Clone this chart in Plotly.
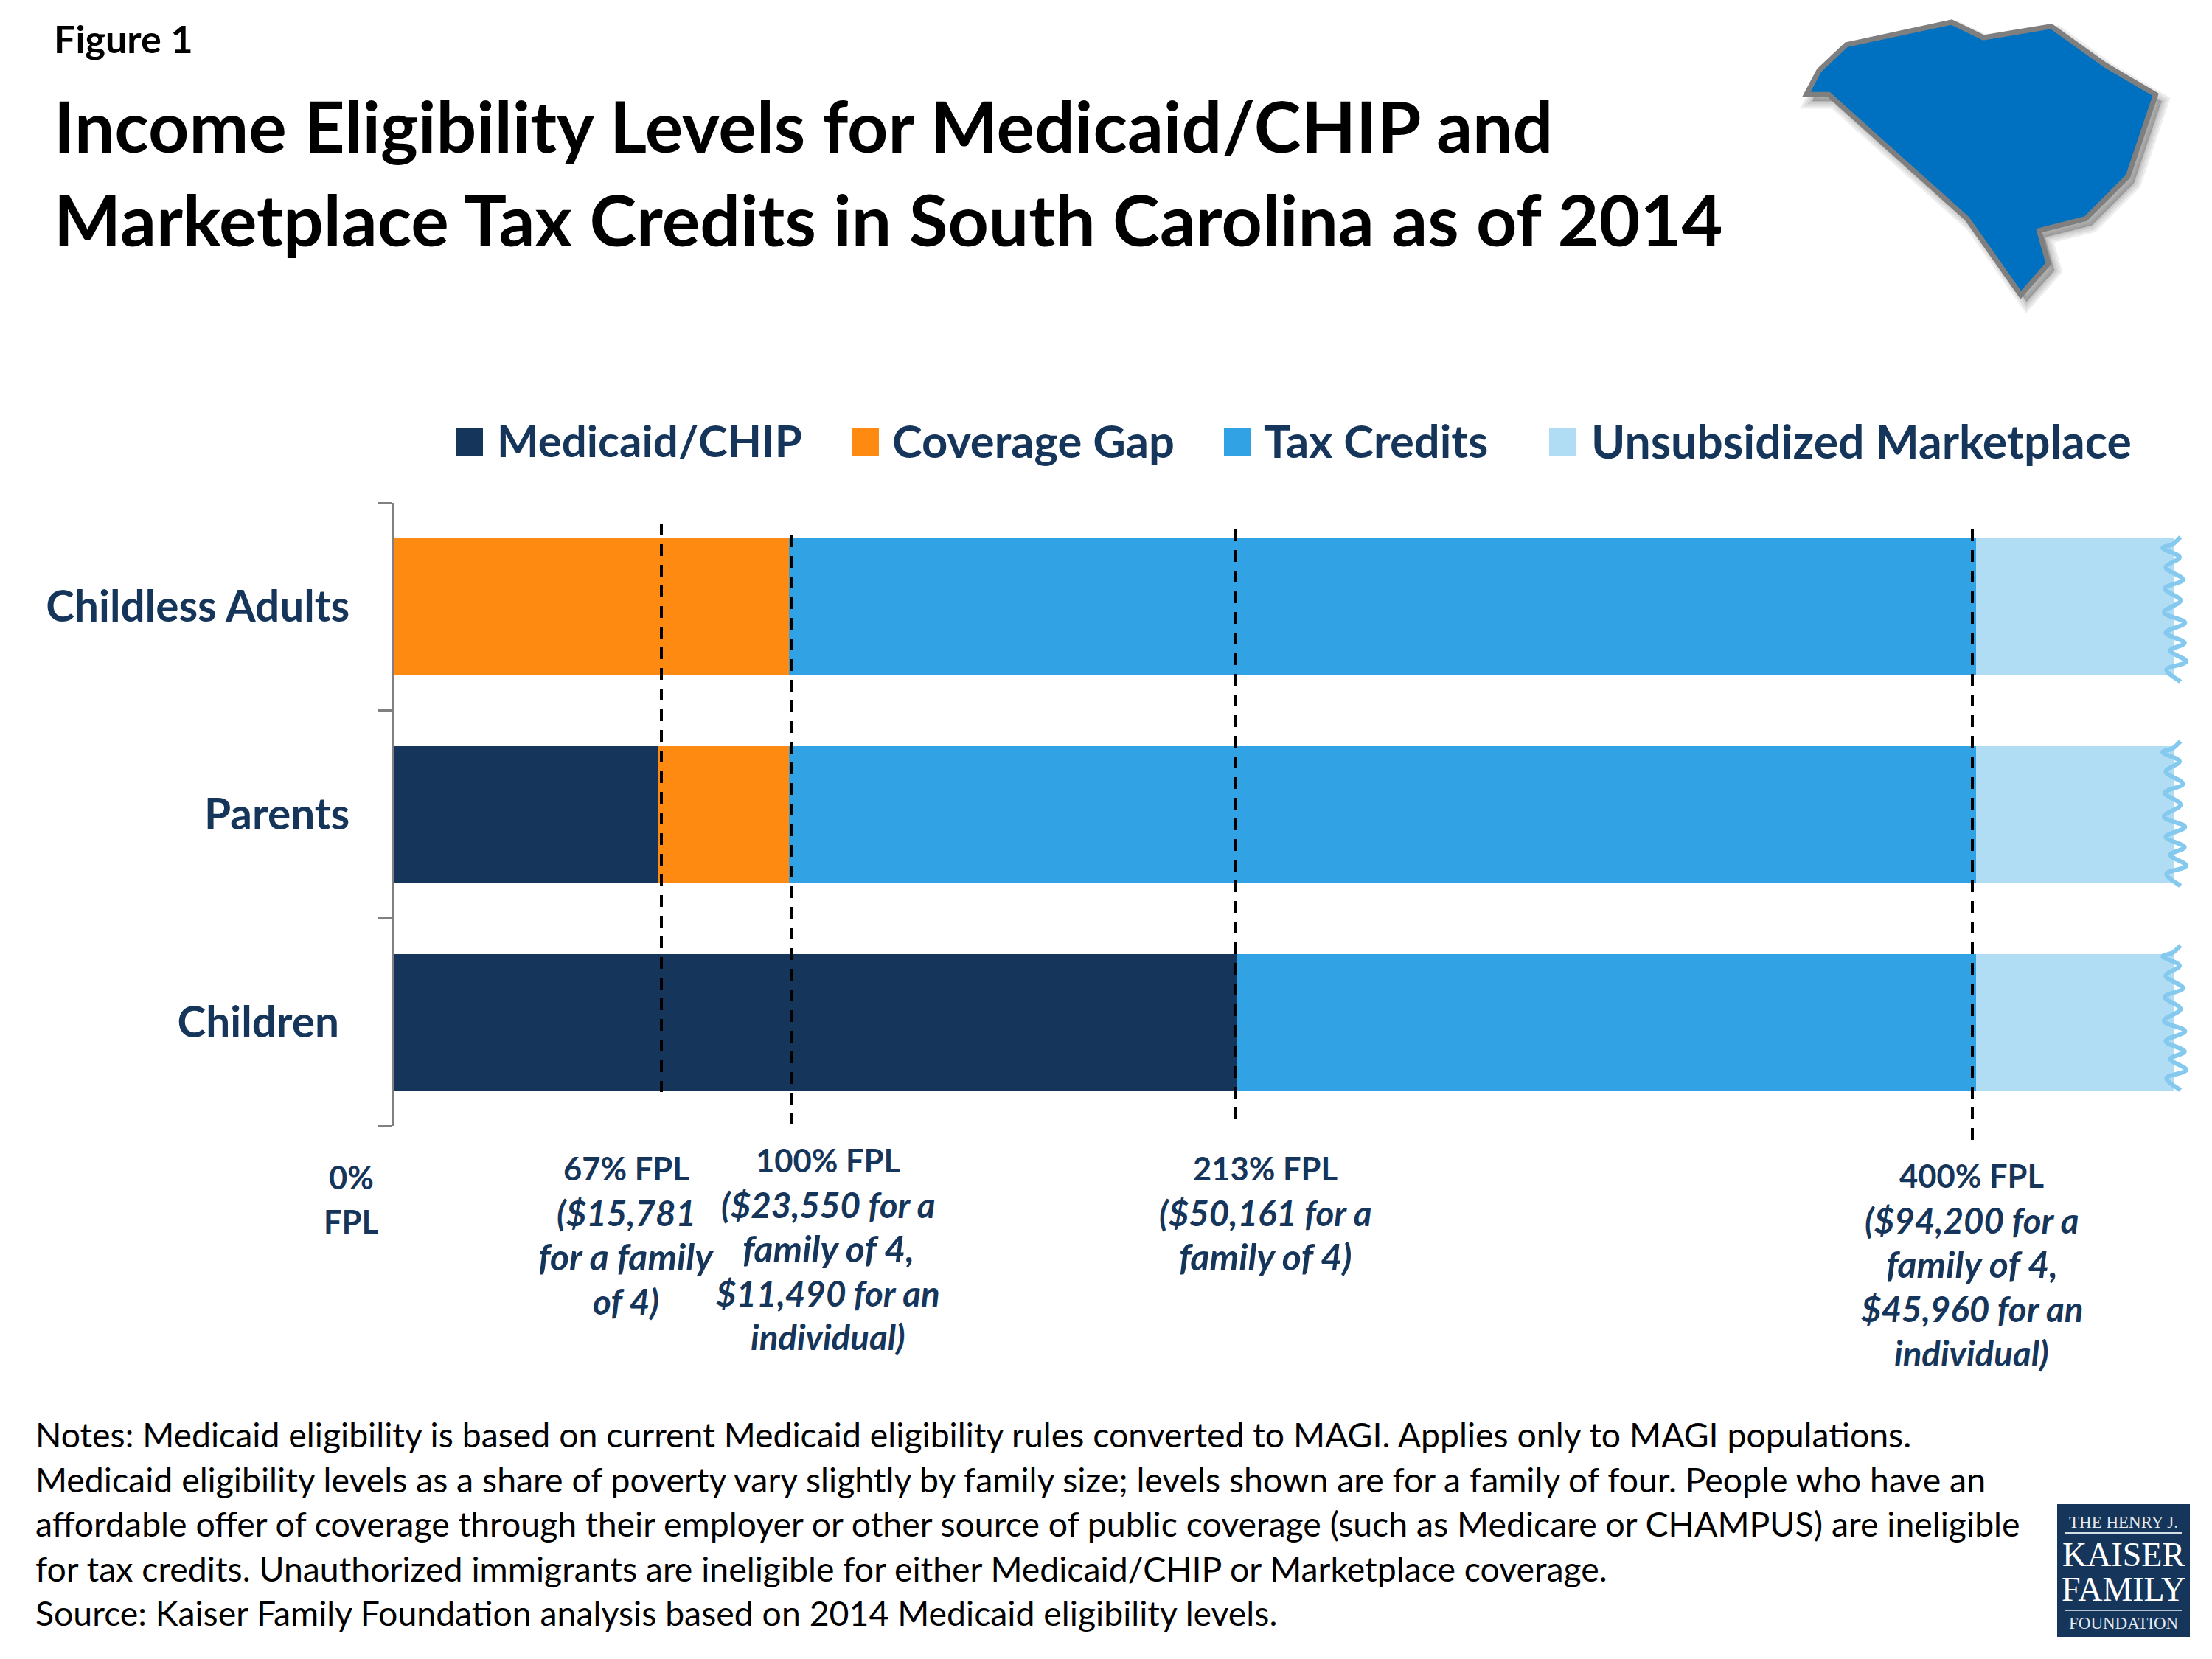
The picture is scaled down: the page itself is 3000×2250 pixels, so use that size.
import plotly.graph_objects as go

W, H = 3000, 2250
PAGE_MARGIN = 8  # the browser's body margin pushes the whole figure by this much

# chart values, % of poverty level
groups = ['Childless Adults', 'Parents', 'Children']
group_labels = ['Childless Adults', 'Parents', 'Children\u00a0']
medicaid = [0, 67, 213]
coverage_gap = [100, 33, 0]
tax_credits = [300, 300, 187]
unsubsidized = [50, 50, 50]

series_names = ['Medicaid/CHIP', 'Coverage Gap', 'Tax Credits', 'Unsubsidized Marketplace']
series_values = [medicaid, coverage_gap, tax_credits, unsubsidized]
series_colors = ['#15355a', '#ff8a12', '#31a2e3', '#b1ddf4']

NAVY = '#15355a'
FONT = 'Lato'

fpl_labels = {
    476: ['0%', 'FPL'],
    849: ['67% FPL', '($15,781', 'for a family', 'of 4)'],
    1123: ['100% FPL', '($23,550 for a', 'family of 4,', '$11,490 for an', 'individual)'],
    1716: ['213% FPL', '($50,161 for a', 'family of 4)'],
    2674: ['400% FPL', '($94,200 for a', 'family of 4,', '$45,960 for an', 'individual)'],
}
fpl_first_y = {476: 1596, 849: 1584, 1123: 1573, 1716: 1584, 2674: 1594}

notes = [
    'Notes: Medicaid eligibility is based on current Medicaid eligibility rules converted to MAGI. Applies only to MAGI populations.',
    'Medicaid eligibility levels as a share of poverty vary slightly by family size; levels shown are for a family of four. People who have an',
    'affordable offer of coverage through their employer or other source of public coverage (such as Medicare or CHAMPUS) are ineligible',
    'for tax credits. Unauthorized immigrants are ineligible for either Medicaid/CHIP or Marketplace coverage.',
    'Source: Kaiser Family Foundation analysis based on 2014 Medicaid eligibility levels.',
]


def px(x):
    return (x - PAGE_MARGIN) / W


def py(y):
    return 1 - (y - PAGE_MARGIN) / H


annotations = []
shapes = []


def text(x, y, s, size, color='black', anchor='left', bold=False, italic=False, family=FONT):
    if bold:
        s = '<b>' + s + '</b>'
    if italic:
        s = '<i>' + s + '</i>'
    annotations.append(dict(x=px(x), y=py(y), xref='paper', yref='paper', text=s, showarrow=False,
                            xanchor=anchor, yanchor='middle', borderpad=0,
                            font=dict(family=family, size=size, color=color)))


def path_from(points, close=False):
    parts = [f'{"M" if i == 0 else "L"} {px(x):.5f} {py(y):.5f}' for i, (x, y) in enumerate(points)]
    return ' '.join(parts) + (' Z' if close else '')


def smooth_path(points):
    # catmull-rom through the points so the peaks stay where they were read
    d = f'M {px(points[0][0]):.5f} {py(points[0][1]):.5f}'
    for i in range(len(points) - 1):
        p0 = points[max(i - 1, 0)]
        p1 = points[i]
        p2 = points[i + 1]
        p3 = points[min(i + 2, len(points) - 1)]
        c1 = (p1[0] + (p2[0] - p0[0]) / 6, p1[1] + (p2[1] - p0[1]) / 6)
        c2 = (p2[0] - (p3[0] - p1[0]) / 6, p2[1] - (p3[1] - p1[1]) / 6)
        d += (f' C {px(c1[0]):.5f} {py(c1[1]):.5f} {px(c2[0]):.5f} {py(c2[1]):.5f}'
              f' {px(p2[0]):.5f} {py(p2[1]):.5f}')
    return d


def rect(x0, y0, x1, y1, fill):
    shapes.append(dict(type='rect', xref='paper', yref='paper', x0=px(x0), x1=px(x1), y0=py(y0), y1=py(y1),
                       fillcolor=fill, line=dict(width=0)))


fig = go.Figure()

for name, vals, color in zip(series_names, series_values, series_colors):
    fig.add_trace(go.Bar(y=groups, x=vals, name=name, orientation='h', marker=dict(color=color, line=dict(width=0)),
                         showlegend=False))

# heading
text(72, 52, 'Figure 1', 52, bold=True)
text(72, 170, 'Income Eligibility Levels for Medicaid/CHIP and', 96.5, bold=True)
text(72, 297, 'Marketplace Tax Credits in South Carolina as of 2014', 96.5, bold=True)

# legend, drawn by hand because the swatches are big
legend_sq = [618, 1155, 1660, 2101]
legend_text_x = [673, 1209, 1713, 2157]
legend_sizes = [60, 61.5, 61.5, 62.5]
for sx, tx, fs, name, color in zip(legend_sq, legend_text_x, legend_sizes, series_names, series_colors):
    rect(sx, 581, sx + 37, 618, color)
    text(tx, 597, name, fs, color=NAVY, bold=True)

# dashed FPL lines
for x, y0, y1 in [(897, 710, 1481), (1074, 726, 1525), (1675, 718, 1518), (2675, 718, 1553)]:
    shapes.append(dict(type='line', xref='paper', yref='paper', x0=px(x), x1=px(x), y0=py(y0), y1=py(y1),
                       line=dict(color='black', width=4, dash='16px,12px')))

# torn right edge of the bars
squiggle = [(1072, 52), (1040, 70), (1000, 80), (1068, 102), (1012, 128), (1082, 158), (1008, 180), (1072, 210),
            (1005, 240), (1090, 265), (1012, 290), (1088, 315), (1030, 335), (1095, 362), (1015, 382), (1072, 412)]
for off in [0, 277, 554]:
    pts = [(2600 + x / 3, 700 + y / 1.835 + off) for x, y in squiggle]
    shapes.append(dict(type='path', xref='paper', yref='paper', path=smooth_path(pts),
                       line=dict(color='#85c9ee', width=6)))

# south carolina outline
sc_outline = [(130, 385), (210, 385), (700, 890), (890, 1200), (988, 1073), (955, 938), (1120, 890), (1270, 718),
              (1368, 385), (1190, 265), (998, 107), (758, 153), (645, 90), (272, 182), (175, 287)]
sc_pts = [(2400 + x / 2.613, y / 3) for x, y in sc_outline]
for w in [20, 14, 8, 3]:
    shadow = [(x + 8, y + 9) for x, y in sc_pts]
    shapes.append(dict(type='path', xref='paper', yref='paper', path=path_from(shadow, True),
                       fillcolor='rgba(90,90,90,0.11)', line=dict(color='rgba(90,90,90,0.11)', width=w)))
shapes.append(dict(type='path', xref='paper', yref='paper', path=path_from(sc_pts, True),
                   fillcolor='#0070c0', line=dict(color='#7f7f7f', width=7)))

# FPL labels under the bars, the first line of each runs narrower in the original
for cx, lines in fpl_labels.items():
    for i, line in enumerate(lines):
        size = 47.5
        if i == 0 or line == 'FPL':
            size = 43.5
        elif 'family' in line:
            size = 50
        text(cx, fpl_first_y[cx] + i * 60, line, size, color=NAVY, anchor='center', bold=True,
             italic=i > 0 and cx != 476)

# notes
for i, line in enumerate(notes):
    text(47, 1945 + i * 60.5, line, 46.4)

# logo
rect(2790, 2040, 2970, 2220, NAVY)
rect(2800, 2078, 2959, 2080, '#d5dde6')
rect(2800, 2183, 2959, 2185, '#b5c2d1')
text(2880, 2064, 'THE HENRY J.', 23, color='#e4e9ef', anchor='center', family='Liberation Serif')
text(2880, 2108, 'KAISER', 46, color='white', anchor='center', family='Liberation Serif')
text(2880, 2155, 'FAMILY', 46, color='white', anchor='center', family='Liberation Serif')
text(2880, 2201, 'FOUNDATION', 23, color='#e4e9ef', anchor='center', family='Liberation Serif')

fig.update_layout(
    width=W,
    height=H,
    barmode='stack',
    bargap=0.343,
    paper_bgcolor='white',
    plot_bgcolor='white',
    showlegend=False,
    margin=dict(l=0, r=0, t=0, b=0),
    annotations=annotations,
    shapes=shapes,
    xaxis=dict(domain=[px(534), px(2948)], range=[0, 450], showgrid=False, zeroline=False, visible=False),
    yaxis=dict(
        domain=[py(1527), py(682)],
        autorange='reversed',
        type='category',
        categoryorder='array',
        categoryarray=groups,
        tickmode='array',
        tickvals=groups,
        ticktext=group_labels,
        tickson='boundaries',
        ticks='outside',
        ticklen=19,
        tickwidth=3,
        tickcolor='#808080',
        ticklabelstandoff=45,
        showline=True,
        linecolor='#808080',
        linewidth=3,
        showgrid=False,
        zeroline=False,
        tickfont=dict(family=FONT, size=58.5, color=NAVY, weight='bold'),
    ),
)

fig.write_html("out.html")
